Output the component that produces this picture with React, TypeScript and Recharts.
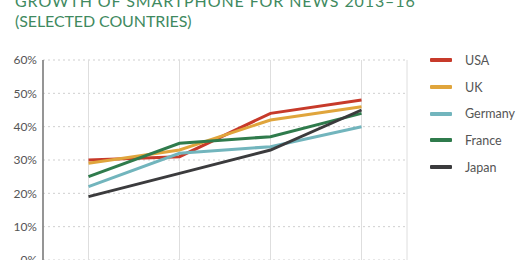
import React from "react";
import { LineChart, Line, XAxis, YAxis, CartesianGrid } from "recharts";

const years = ["2013", "2014", "2015", "2016"];
const usa = [30, 31, 44, 48];
const uk = [29, 33, 42, 46];
const germany = [22, 32, 34, 40];
const france = [25, 35, 37, 44];
const japan = [19, 26, 33, 45];
const yTicks = [0, 10, 20, 30, 40, 50, 60];
const titleLines = ["GROWTH OF SMARTPHONE FOR NEWS 2013–16", "(SELECTED COUNTRIES)"];

const series = [
  { key: "USA", values: usa, color: "#c73a2a" },
  { key: "UK", values: uk, color: "#e0a53c" },
  { key: "Germany", values: germany, color: "#72b5bd" },
  { key: "France", values: france, color: "#2f7b4c" },
  { key: "Japan", values: japan, color: "#3b3b3d" },
];

const data = years.map((y, i) => {
  const row: any = { year: y };
  series.forEach((s) => (row[s.key] = s.values[i]));
  return row;
});

const FONT = "Lato, 'Open Sans', sans-serif";

export default function App() {
  return (
    <div style={{ position: "absolute", left: 0, top: 0, width: 525, height: 260, overflow: "hidden", background: "#fff" }}>
      {titleLines.map((t, i) => (
        <div
          key={i}
          style={{
            position: "absolute",
            left: 15,
            top: i === 0 ? -9 : 11,
            fontFamily: FONT,
            fontSize: 16,
            lineHeight: "20px",
            color: "#3f8a5f",
            letterSpacing: i === 0 ? 0.9 : -0.1,
            whiteSpace: "nowrap",
          }}
        >
          {t}
        </div>
      ))}
      <div style={{ position: "absolute", left: 0, top: 0 }}>
        <LineChart width={525} height={280} data={data} margin={{ top: 60, right: 118, bottom: 20, left: 0 }}>
          <CartesianGrid horizontal={true} vertical={false} stroke="#cfcfcf" strokeDasharray="2 3" />
          <CartesianGrid horizontal={false} vertical={true} stroke="#dedede" />
          <XAxis dataKey="year" hide padding={{ left: 45.5, right: 45.5 }} />
          <YAxis
            domain={[0, 60]}
            ticks={yTicks}
            width={43}
            tickFormatter={(v) => `${v}%`}
            axisLine={{ stroke: "#777", strokeWidth: 1.5 }}
            tickLine={false}
            tickSize={0}
            tickMargin={6}
            tick={{ fill: "#555", fontSize: 12, fontFamily: FONT }}
            interval={0}
          />
          {series.map((s) => (
            <Line
              key={s.key}
              dataKey={s.key}
              stroke={s.color}
              strokeWidth={3}
              dot={false}
              activeDot={false}
              isAnimationActive={false}
              type="linear"
            />
          ))}
        </LineChart>
      </div>
      <div style={{ position: "absolute", left: 430, top: 47, fontFamily: FONT }}>
        {series.map((s) => (
          <div key={s.key} style={{ display: "flex", alignItems: "center", height: 26.7 }}>
            <div style={{ width: 22, height: 4, background: s.color, borderRadius: 1 }} />
            <span style={{ marginLeft: 13, fontSize: 12.5, color: "#555" }}>{s.key}</span>
          </div>
        ))}
      </div>
    </div>
  );
}
